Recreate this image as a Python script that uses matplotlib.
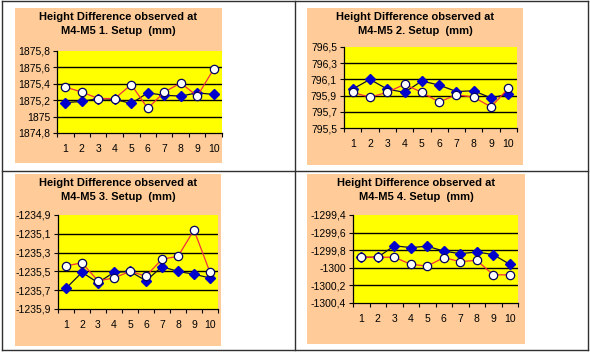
import matplotlib
matplotlib.use("Agg")
import matplotlib.pyplot as plt
from matplotlib.lines import Line2D

plt.rcParams['font.family'] = ['Liberation Sans', 'DejaVu Sans']

categories = [1, 2, 3, 4, 5, 6, 7, 8, 9, 10]

titles = [
    "Height Difference observed at\nM4-M5 1. Setup  (mm)",
    "Height Difference observed at\nM4-M5 2. Setup  (mm)",
    "Height Difference observed at\nM4-M5 3. Setup  (mm)",
    "Height Difference observed at\nM4-M5 4. Setup  (mm)",
]

# series with blue diamonds (dark line)
blue_1 = [1875.17, 1875.185, 1875.22, 1875.21, 1875.16, 1875.29, 1875.26, 1875.25, 1875.29, 1875.27]
blue_2 = [795.98, 796.10, 795.98, 795.94, 796.08, 796.03, 795.95, 795.96, 795.87, 795.92]
blue_3 = [-1235.68, -1235.51, -1235.62, -1235.51, -1235.50, -1235.60, -1235.45, -1235.50, -1235.53, -1235.57]
blue_4 = [-1299.88, -1299.88, -1299.75, -1299.77, -1299.755, -1299.81, -1299.84, -1299.82, -1299.85, -1299.96]

# series with white circles (red line)
white_1 = [1875.36, 1875.30, 1875.22, 1875.22, 1875.39, 1875.10, 1875.30, 1875.41, 1875.25, 1875.58]
white_2 = [795.94, 795.88, 795.94, 796.04, 795.94, 795.82, 795.91, 795.88, 795.76, 795.99]
white_3 = [-1235.44, -1235.41, -1235.60, -1235.57, -1235.50, -1235.55, -1235.37, -1235.34, -1235.06, -1235.51]
white_4 = [-1299.88, -1299.88, -1299.88, -1299.96, -1299.98, -1299.885, -1299.93, -1299.915, -1300.08, -1300.08]

yticks_1 = [1874.8, 1875.0, 1875.2, 1875.4, 1875.6, 1875.8]
ylabels_1 = ["1874,8", "1875", "1875,2", "1875,4", "1875,6", "1875,8"]
yticks_2 = [795.5, 795.7, 795.9, 796.1, 796.3, 796.5]
ylabels_2 = ["795,5", "795,7", "795,9", "796,1", "796,3", "796,5"]
yticks_3 = [-1235.9, -1235.7, -1235.5, -1235.3, -1235.1, -1234.9]
ylabels_3 = ["-1235,9", "-1235,7", "-1235,5", "-1235,3", "-1235,1", "-1234,9"]
yticks_4 = [-1300.4, -1300.2, -1300.0, -1299.8, -1299.6, -1299.4]
ylabels_4 = ["-1300,4", "-1300,2", "-1300", "-1299,8", "-1299,6", "-1299,4"]

W, H = 590, 353
fig = plt.figure(figsize=(W / 100, H / 100), dpi=100)
fig.patch.set_facecolor('white')

def fx(x):
    return x / W

def fy(y):
    return 1 - y / H

# table lines
line_col = '#303030'
for (x0, y0, x1, y1) in [(2, 1, 588, 1), (2, 350, 588, 350), (2, 1, 2, 350), (588, 1, 588, 350),
                         (295, 1, 295, 350), (2, 171, 588, 171)]:
    fig.add_artist(Line2D([fx(x0), fx(x1)], [fy(y0), fy(y1)], color=line_col, lw=1.0))

panels = [
    # orange box (x0,y0,x1,y1), yellow box, data
    ((15, 8, 222, 163), (57, 51, 222, 133), blue_1, white_1, yticks_1, ylabels_1, 0),
    ((307, 8, 523, 165), (344, 47, 517, 128), blue_2, white_2, yticks_2, ylabels_2, 1),
    ((15, 174, 221, 346), (58, 215, 218, 309), blue_3, white_3, yticks_3, ylabels_3, 2),
    ((307, 174, 525, 344), (353, 215, 518, 303), blue_4, white_4, yticks_4, ylabels_4, 3),
]

for (ob, yb, bl, wh, yt, yl, idx) in panels:
    ox0, oy0, ox1, oy1 = ob
    bg = fig.add_axes([fx(ox0), fy(oy1), fx(ox1 - ox0), (oy1 - oy0) / H])
    bg.set_facecolor('#FFCC99')
    bg.set_xticks([])
    bg.set_yticks([])
    for s in bg.spines.values():
        s.set_visible(False)
    bg.set_zorder(0)
    bg.text(0.5, 1 - 4 / (oy1 - oy0), titles[idx], transform=bg.transAxes,
            ha='center', va='top', fontsize=8, fontweight='bold', linespacing=1.5)
    x0, y0, x1, y1 = yb
    ax = fig.add_axes([fx(x0), fy(y1), fx(x1 - x0), (y1 - y0) / H])
    ax.set_zorder(1)
    ax.set_facecolor('#FFFF00')
    ax.set_xlim(0.5, 10.5)
    ax.set_ylim(yt[0], yt[-1])
    for t in yt[1:-1]:
        ax.axhline(t, color='black', lw=1.0, zorder=1)
    ax.plot(categories, bl, color='#101030', lw=0.9, marker='D', markersize=5.5,
            markerfacecolor='#0000CC', markeredgecolor='#0000CC', zorder=3)
    ax.plot(categories, wh, color='#F03040', lw=0.9, marker='o', markersize=6,
            markerfacecolor='white', markeredgecolor='#000060', markeredgewidth=0.9, zorder=4)
    ax.set_yticks(yt)
    ax.set_yticklabels(yl, fontsize=7.5)
    ax.set_xticks([c + 0.5 for c in [0] + categories])
    ax.set_xticklabels([])
    ax.set_xticks(categories, minor=True)
    ax.set_xticklabels([str(c) for c in categories], minor=True, fontsize=7.5)
    ax.tick_params(axis='x', which='minor', length=0, pad=8)
    ax.tick_params(axis='x', which='major', length=3, width=0.8, direction='out')
    ax.tick_params(axis='y', length=3, width=0.8, direction='out', pad=2)
    for s in ['top', 'right']:
        ax.spines[s].set_visible(False)
    for s in ['left', 'bottom']:
        ax.spines[s].set_linewidth(0.9)

fig.savefig('out.png', dpi=100)
